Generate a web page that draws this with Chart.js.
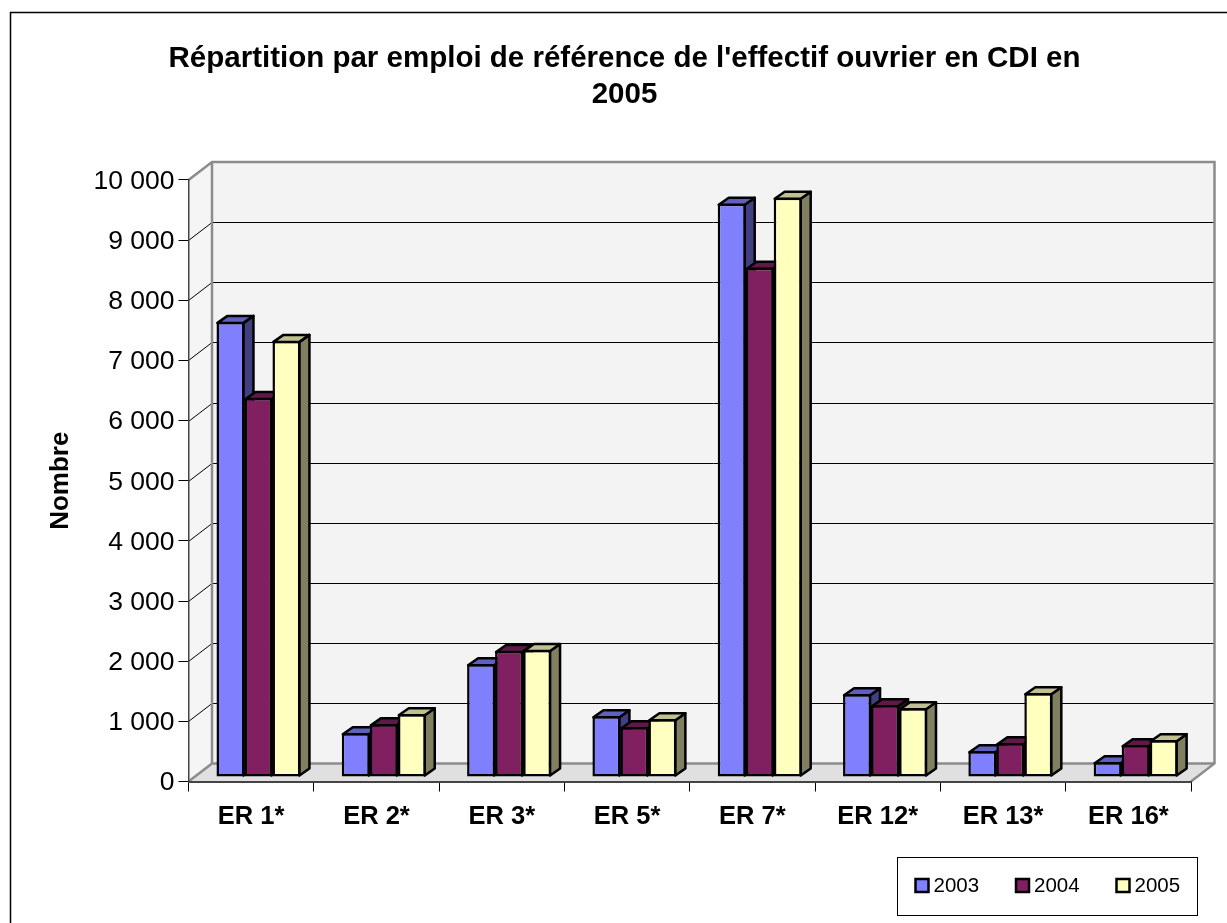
<!DOCTYPE html>
<html>
<head>
<meta charset="utf-8">
<title>Effectif ouvrier</title>
<script src="https://cdn.jsdelivr.net/npm/chart.js@4"></script>
<style>
  html, body { margin: 0; padding: 0; background: #fff; }
  canvas { display: block; }
</style>
</head>
<body>
<canvas id="effectifChart" width="1227" height="923"></canvas>
<script>
const categories = ['ER 1*', 'ER 2*', 'ER 3*', 'ER 5*', 'ER 7*', 'ER 12*', 'ER 13*', 'ER 16*'];
const years = ['2003', '2004', '2005'];
const values2003 = [7566, 727, 1875, 1010, 9530, 1376, 428, 245];
const values2004 = [6300, 875, 2095, 827, 8465, 1193, 560, 528];
const values2005 = [7250, 1043, 2110, 960, 9630, 1143, 1393, 612];
const chartTitle = ["Répartition par emploi de référence de l'effectif ouvrier en CDI en", '2005'];
const yTitle = 'Nombre';

// front, side and top colours of each series
const frontColors = ['#8080ff', '#802060', '#ffffc0'];
const sideColors = ['#404080', '#401030', '#808060'];
const topColors = ['#6060c0', '#601848', '#c0c090'];

const FONT = '"Liberation Sans", Arial, sans-serif';
const WALL = { dx: 23.5, dy: -18 };    // depth of the floor / side wall
const BAR_SHIFT = { x: 7.3, y: -4.5 }; // bars stand in the middle of the floor
const BAR_DEPTH = { dx: 10, dy: -7 };

function path(ctx, pts) {
    ctx.beginPath();
    pts.forEach((p, i) => i ? ctx.lineTo(p[0], p[1]) : ctx.moveTo(p[0], p[1]));
    ctx.closePath();
}

const box3d = {
    id: 'box3d',
    beforeDraw(chart) {
        const ctx = chart.ctx;
        const {left, right, top, bottom} = chart.chartArea;
        const y = chart.scales.y;
        const dx = WALL.dx, dy = WALL.dy;

        ctx.save();
        ctx.fillStyle = '#fff';
        ctx.fillRect(0, 0, chart.width, chart.height);
        // only the top and left of the frame are inside the picture
        ctx.strokeStyle = '#000';
        ctx.lineWidth = 1.5;
        ctx.strokeRect(10.5, 12.5, chart.width + 10, chart.height + 10);

        // walls
        ctx.fillStyle = '#f5f5f5';
        path(ctx, [[left, top], [left + dx, top + dy], [left + dx, bottom + dy], [left, bottom]]);
        ctx.fill();
        ctx.fillStyle = '#f3f3f3';
        ctx.fillRect(left + dx, top + dy, right - left, bottom - top);

        // floor
        ctx.fillStyle = '#e0e0e0';
        path(ctx, [[left, bottom], [left + dx, bottom + dy], [right + dx, bottom + dy], [right, bottom]]);
        ctx.fill();

        // grid lines on side wall and back wall
        ctx.strokeStyle = '#000';
        ctx.lineWidth = 1;
        y.ticks.forEach(t => {
            if (t.value === 0 || t.value === 10000) return;
            const py = Math.round(y.getPixelForValue(t.value)) + 0.5;
            ctx.beginPath();
            ctx.moveTo(left, py);
            ctx.lineTo(left + dx, py + dy);
            ctx.lineTo(right + dx, py + dy);
            ctx.stroke();
        });

        // grey outline of the walls
        ctx.strokeStyle = '#8c8c8c';
        ctx.lineWidth = 2.5;
        ctx.beginPath();
        ctx.moveTo(left, top);
        ctx.lineTo(left + dx, top + dy);
        ctx.lineTo(right + dx, top + dy);
        ctx.lineTo(right + dx, bottom + dy);
        ctx.lineTo(right, bottom);
        ctx.moveTo(left + dx, top + dy);
        ctx.lineTo(left + dx, bottom + dy);
        ctx.lineTo(right + dx, bottom + dy);
        ctx.moveTo(left + dx, bottom + dy);
        ctx.lineTo(left, bottom);
        ctx.stroke();
        ctx.restore();
    },
    // the library paints the last dataset first, here 2003 has to go first
    beforeDatasetsDraw(chart) {
        const ctx = chart.ctx;
        ctx.save();
        ctx.translate(BAR_SHIFT.x, BAR_SHIFT.y);
        years.forEach((year, i) => {
            const meta = chart.getDatasetMeta(i);
            ctx.lineWidth = 2.5;
            ctx.strokeStyle = '#000';
            ctx.lineJoin = 'round';
            meta.data.forEach(bar => {
                const l = bar.x - bar.width / 2 + 1, r = bar.x + bar.width / 2 - 1;
                const t = bar.y + 1, b = bar.base - 1;
                const dx = BAR_DEPTH.dx, dy = BAR_DEPTH.dy;
                ctx.fillStyle = sideColors[i];
                path(ctx, [[r, t], [r + dx, t + dy], [r + dx, b + dy], [r, b]]);
                ctx.fill();
                ctx.stroke();
                ctx.fillStyle = topColors[i];
                path(ctx, [[l, t], [l + dx, t + dy], [r + dx, t + dy], [r, t]]);
                ctx.fill();
                ctx.stroke();
            });
            meta.controller.draw();
        });
        ctx.restore();
    },
    beforeDatasetDraw() {
        return false;
    },
    afterLayout(chart) {
        // the title sits right of the page centre in the original
        chart.titleBlock.left += 29;
        chart.titleBlock.right += 29;
    },
    afterDraw(chart) {
        const ctx = chart.ctx;
        const bx = 897, by = 857, bw = 300, bh = 58;
        ctx.save();
        ctx.fillStyle = '#fff';
        ctx.fillRect(bx, by, bw, bh);
        ctx.strokeStyle = '#000';
        ctx.lineWidth = 1;
        ctx.strokeRect(bx + 0.5, by + 0.5, bw, bh);
        ctx.font = '20.5px ' + FONT;
        ctx.textBaseline = 'middle';
        ctx.textAlign = 'left';
        years.forEach((year, i) => {
            const x = 915.5 + i * 100.5;
            ctx.fillStyle = frontColors[i];
            ctx.lineWidth = 2.5;
            ctx.fillRect(x, by + 22, 13, 13);
            ctx.strokeRect(x, by + 22, 13, 13);
            ctx.fillStyle = '#000';
            ctx.fillText(year, x + 18, by + 29);
        });
        ctx.restore();
    }
};

function makeDataset(label, data, i) {
    return {
        label: label,
        data: data,
        backgroundColor: frontColors[i],
        borderColor: '#000',
        borderWidth: 2.5,
        borderSkipped: false,
        clip: false,
        categoryPercentage: 0.67,
        barPercentage: 1
    };
}

new Chart(document.getElementById('effectifChart').getContext('2d'), {
    type: 'bar',
    data: {
        labels: categories,
        datasets: [
            makeDataset(years[0], values2003, 0),
            makeDataset(years[1], values2004, 1),
            makeDataset(years[2], values2005, 2),
        ]
    },
    plugins: [box3d],
    options: {
        responsive: false,
        animation: false,
        layout: { autoPadding: false, padding: { right: 36 } },
        plugins: {
            legend: { display: false },
            tooltip: { enabled: false },
            title: {
                display: true,
                text: chartTitle,
                color: '#000',
                font: { family: FONT, size: 29.5, weight: 'bold', lineHeight: 1.22 },
                padding: { top: 41, bottom: 67 }
            }
        },
        scales: {
            x: {
                afterFit(scale) { scale.height = 141.5; },
                grid: {
                    drawOnChartArea: false,
                    tickLength: 10,
                    color: '#000'
                },
                border: { color: '#444', width: 2 },
                ticks: {
                    color: '#000',
                    padding: 10,
                    maxRotation: 0,
                    font: { family: FONT, size: 25.5, weight: 'bold' }
                }
            },
            y: {
                min: 0,
                max: 10000,
                afterFit(scale) { scale.width = 188.5; },
                title: {
                    display: true,
                    text: yTitle,
                    color: '#000',
                    padding: { top: 45, bottom: 0 },
                    font: { family: FONT, size: 26, weight: 'bold' }
                },
                grid: {
                    drawOnChartArea: false,
                    tickLength: 10,
                    color: '#000'
                },
                border: { color: '#444', width: 1.5 },
                ticks: {
                    stepSize: 1000,
                    color: '#000',
                    padding: 4,
                    labelOffset: 1.5,
                    font: { family: FONT, size: 26.5 },
                    callback: v => v >= 1000 ? Math.floor(v / 1000) + ' ' + String(v % 1000).padStart(3, '0') : String(v)
                }
            }
        }
    }
});
</script>
</body>
</html>
